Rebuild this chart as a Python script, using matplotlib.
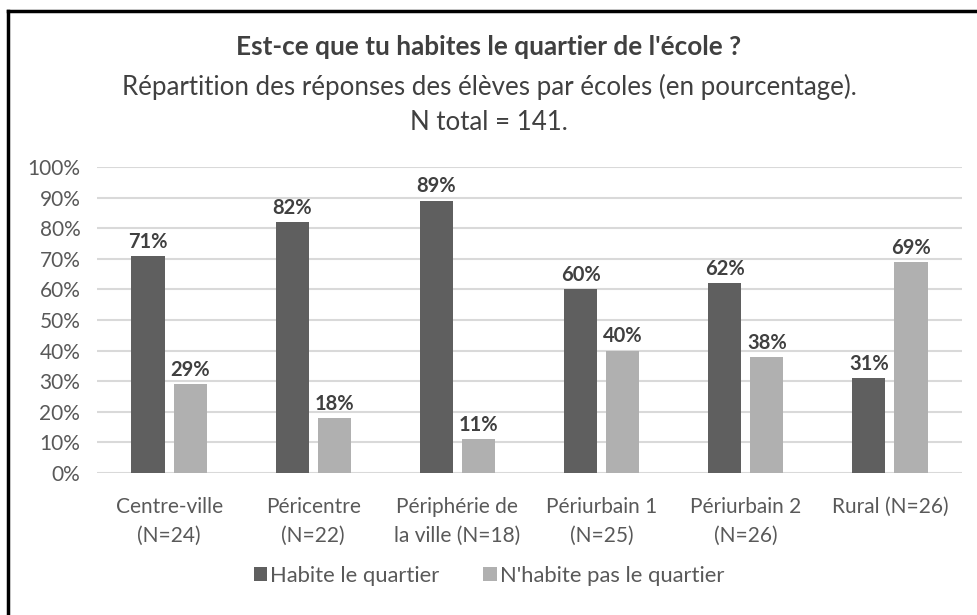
import matplotlib
matplotlib.use("Agg")
import matplotlib.pyplot as plt
from matplotlib.patches import Patch
from matplotlib.lines import Line2D
import numpy as np

categories = ["Centre-ville\n(N=24)", "Péricentre\n(N=22)", "Périphérie de\nla ville (N=18)",
              "Périurbain 1\n(N=25)", "Périurbain 2\n(N=26)", "Rural (N=26)\n"]
habite = [71, 82, 89, 60, 62, 31]
nhabite = [29, 18, 11, 40, 38, 69]
series_names = ["Habite le quartier", "N'habite pas le quartier"]
yticks = [0, 10, 20, 30, 40, 50, 60, 70, 80, 90, 100]

FONT = ["Lato", "DejaVu Sans"]
plt.rcParams['font.family'] = FONT

dark = "#5f5f5f"
light = "#b0b0b0"
txt = "#404040"
tick_c = "#595959"

fig = plt.figure(figsize=(9.78, 6.15), dpi=100)
ax = fig.add_axes([0.0992, 0.2309, 0.8844, 0.4976])

x = np.arange(len(categories))
w = 0.23
off = 0.146
b1 = ax.bar(x - off, habite, w, color=dark, zorder=3)
b2 = ax.bar(x + off, nhabite, w, color=light, zorder=3)

for bars in (b1, b2):
    for r in bars:
        v = r.get_height()
        ax.annotate(f"{v:.0f}%", (r.get_x() + r.get_width() / 2, v),
                    xytext=(0, 3), textcoords="offset points",
                    ha="center", va="bottom", fontsize=14.5, fontweight="bold", color=txt)

ax.set_xlim(-0.5, len(categories) - 0.5)
ax.set_ylim(0, 100)
ax.set_yticks(yticks)
ax.set_yticklabels([f"{t}%" for t in yticks], fontsize=15, color=tick_c)
ax.set_xticks(x)
ax.set_xticklabels(categories, fontsize=15, color=tick_c, linespacing=1.6)
ax.tick_params(axis="both", length=0)
ax.tick_params(axis="x", pad=17)
ax.tick_params(axis="y", pad=12)
ax.grid(axis="y", color="#d9d9d9", linewidth=1.5, zorder=0)
for s in ax.spines.values():
    s.set_visible(False)

fig.text(0.5, 1 - 47 / 615, "Est-ce que tu habites le quartier de l'école ?",
         ha="center", va="center", fontsize=18.8, fontweight="bold", color=txt)
fig.text(0.5, 1 - 87 / 615, "Répartition des réponses des élèves par écoles (en pourcentage).",
         ha="center", va="center", fontsize=18.6, color=txt)
fig.text(0.5, 1 - 122 / 615, "N total = 141.",
         ha="center", va="center", fontsize=18.6, color=txt)

handles = [Patch(facecolor=dark), Patch(facecolor=light)]
fig.legend(handles, series_names, loc="center", bbox_to_anchor=(0.5, 1 - 576 / 615),
           ncol=2, frameon=False, fontsize=15.8, handlelength=0.6, handleheight=0.6,
           handletextpad=0.15, columnspacing=2.0, labelcolor=tick_c)

# partial frame (top and left)
fig.add_artist(Line2D([8 / 978, 1], [1 - 11 / 615, 1 - 11 / 615], transform=fig.transFigure,
                      color="black", linewidth=2.5))
fig.add_artist(Line2D([8 / 978, 8 / 978], [0, 1 - 11 / 615], transform=fig.transFigure,
                      color="black", linewidth=2.5))

fig.savefig("out.png", dpi=100, facecolor="white")
